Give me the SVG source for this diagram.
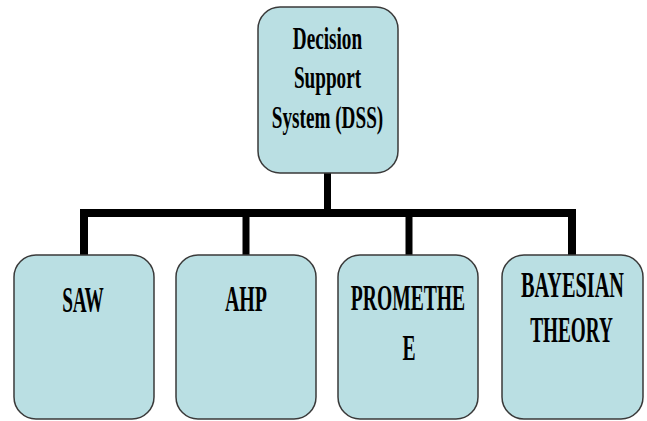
<svg xmlns="http://www.w3.org/2000/svg" width="647" height="421" viewBox="0 0 647 421">
<style>
.box{fill:#badfe3;stroke:#3a3a3a;stroke-width:1.5}
.lbl{font-family:"Liberation Serif","Times New Roman",serif;font-weight:bold;fill:#000;text-anchor:middle}
.top{font-size:32px}
.bot{font-size:35px}
.con{stroke:#000;fill:none;stroke-linecap:butt}
</style>
<rect width="647" height="421" fill="#fff"/>
<g id="connectors">
<line class="con" x1="327.5" y1="173" x2="327.5" y2="214" stroke-width="7"/>
<polyline class="con" points="84,255 84,213 572,213 572,255" stroke-width="8" stroke-linejoin="miter"/>
<line class="con" x1="246" y1="213" x2="246" y2="255" stroke-width="7"/>
<line class="con" x1="409" y1="213" x2="409" y2="255" stroke-width="7"/>
</g>
<g id="dss">
<rect class="box" x="258" y="7" width="140" height="166" rx="22"/>
<text class="lbl top" transform="translate(327.5,49) scale(0.6,1)">Decision</text>
<text class="lbl top" transform="translate(327.5,88) scale(0.6,1)">Support</text>
<text class="lbl top" transform="translate(327.5,128) scale(0.6,1)">System (DSS)</text>
</g>
<g id="saw">
<rect class="box" x="14" y="255" width="140" height="164" rx="22"/>
<text class="lbl bot" transform="translate(83,312) scale(0.55,1)">SAW</text>
</g>
<g id="ahp">
<rect class="box" x="176" y="255" width="140" height="164" rx="22"/>
<text class="lbl bot" transform="translate(246,311) scale(0.57,1)">AHP</text>
</g>
<g id="promethee">
<rect class="box" x="338" y="255" width="140" height="164" rx="22"/>
<text class="lbl bot" transform="translate(408,310) scale(0.56,1)">PROMETHE</text>
<text class="lbl bot" transform="translate(409,360) scale(0.56,1)">E</text>
</g>
<g id="bayesian">
<rect class="box" x="502" y="255" width="141" height="164" rx="22"/>
<text class="lbl bot" transform="translate(572.5,297) scale(0.58,1)">BAYESIAN</text>
<text class="lbl bot" transform="translate(571.5,342) scale(0.55,1)">THEORY</text>
</g>
</svg>
